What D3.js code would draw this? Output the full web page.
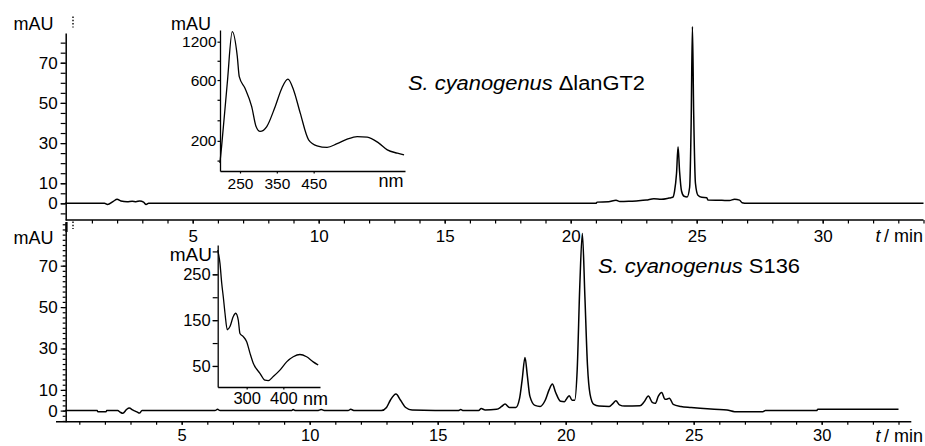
<!DOCTYPE html>
<html><head><meta charset="utf-8">
<script src="https://cdn.jsdelivr.net/npm/d3@7"></script>
<style>
body{margin:0;background:#fff;}
svg text{font-family:"Liberation Sans",Arial,Helvetica,sans-serif;fill:#000;}
</style></head>
<body><svg id="c" width="925" height="446"></svg>
<script>
// ---------- DATA ----------
// top chromatogram (S. cyanogenus ΔlanGT2): [t (min), mAU]
const topTrace = [[-0.07,0],[1.5,0],[1.62,-0.6],[1.85,1.0],[2.0,2.0],[2.15,1.2],[2.4,0.8],[2.6,1.0],[2.75,0.8],[2.9,1.2],[3.05,0.6],[3.15,-0.6],[3.25,0],
 [21.0,0],[21.05,0.6],[21.5,0.8],[21.8,1.5],[21.95,0.9],[22.3,1.0],[22.6,1.2],[23.0,1.6],[23.3,2.3],[23.6,2.0],[23.9,2.6],[24.05,3.0],[24.12,6],[24.2,15],[24.26,28.2],[24.32,16],[24.4,6],[24.5,3.5],[24.62,3.2],[24.72,8],[24.78,40],[24.83,88],[24.88,45],[24.95,10],[25.05,4],[25.2,3],[25.4,2.8],[25.45,1.6],[26.0,1.5],[26.3,1.4],[26.5,2.0],[26.7,1.6],[26.8,0.3],[27,0],[34,0]];
// bottom chromatogram (S. cyanogenus S136)
const bottomTrace = [[0.44,0],[1.7,0],[1.72,-0.5],[2.05,-0.5],[2.07,0],[2.5,0],[2.6,-0.8],[2.7,-1.3],[2.85,0.6],[2.95,1.2],[3.1,0.2],[3.25,-0.6],[3.35,-1.2],[3.45,0],
 [6.3,0],[6.4,0.6],[6.5,0],[9.3,0],[9.35,0.5],[9.45,0],[10.3,0],[10.45,0.5],[10.6,0],[11.5,0],[11.6,0.6],[11.75,0],[12.8,0],[13.0,1.5],[13.15,5],[13.37,8],[13.55,5],[13.75,1.5],[14.0,0.3],[15.8,0],[15.9,0.5],[16.0,0],[16.6,0],[16.7,1],[16.85,0.3],[17.3,0.6],[17.5,2],[17.63,3.2],[17.8,1.5],[18.05,1.5],[18.2,6],[18.3,15],[18.41,25.7],[18.5,17],[18.6,7],[18.8,2.5],[19.0,2],[19.2,5],[19.35,10],[19.48,12.8],[19.6,9],[19.8,4.5],[19.95,4.3],[20.05,6],[20.14,7.2],[20.25,5],[20.35,5],[20.45,20],[20.55,60],[20.65,85.6],[20.75,55],[20.85,22],[20.95,8],[21.1,3],[21.3,2.2],[21.7,2],[21.85,3.5],[21.96,4.8],[22.1,2.8],[22.3,2.2],[22.9,2.3],[23.05,4],[23.23,7.0],[23.38,4.0],[23.5,3.5],[23.62,7],[23.75,8.7],[23.88,5.5],[23.95,5.5],[24.05,6],[24.2,3],[24.5,2.0],[24.9,1.5],[25.25,1.1],[25.8,0.6],[26.3,0.3],[26.6,-0.5],[27.7,-0.5],[27.8,0],[29.8,0],[29.85,0.6],[33.0,0.6]];
// UV-vis spectrum insets: [nm, mAU]
const topSpectrum = [[195.5,134],[200,180],[215.4,566],[229,1437],[242.7,915],[248,638],[263.6,518],[281.8,371],[293.6,259],[304.5,237],[322.7,259],[345.4,371],[363.6,518],[380,609],[395.4,502],[413.6,330],[436.3,204],[459,183],[486.4,178],[513.7,190],[541,206],[568,216],[595.4,214],[627,192],[650,170],[677.3,160],[695.4,155]];
const bottomSpectrum = [[221,303],[227.2,274],[231.9,231],[236.2,201],[240.9,165],[247.1,129],[254.5,136],[263.5,158],[270,165],[277.1,150],[281.7,121],[290.7,114],[300,103],[309,78],[318,56],[336.2,34],[349.9,19],[358.9,18],[372.5,27],[390.7,41],[409,59],[427,70],[445.2,75],[463.5,70],[481.5,59],[495.1,52]];
// tick labels
const yTickLabels = [0,10,30,50,70];
const xTickLabels = [5,10,15,20,25,30];
const topInsetYLabels = [200,600,1200];
const topInsetYMinor = [140,290,420,850];
const topInsetXLabels = [250,350,450];
const bottomInsetYLabels = [50,150,250];
const bottomInsetXLabels = [300,400];
const labelTop = {italic:"S. cyanogenus", plain:" \u0394lanGT2"};
const labelBottom = {italic:"S. cyanogenus", plain:" S136"};

// ---------- SCALES ----------
const svg = d3.select("#c");
const topX = d3.scaleLinear().domain([0,34]).range([66.7,923.5]);
const topY = d3.scaleLinear().domain([-8.3,84.8]).range([220,33]);
const botX = d3.scaleLinear().domain([0,33.5]).range([53.7,911.3]);
const botY = d3.scaleLinear().domain([-5.36,91.1]).range([421.7,222]);
const tiX = d3.scaleLinear().domain([195.7,698]).range([220,405]);
const tiY = d3.scaleLog().domain([116,1482]).range([171,30]);
const biX = d3.scaleLinear().domain([221,500]).range([217.7,320]);
const biY = d3.scaleLinear().domain([4.1,314]).range([387,245]);

const FONT = 17;
function styleAxis(g, fs){
  g.selectAll(".domain").attr("stroke","#000").attr("stroke-width",1.5);
  g.selectAll(".tick line").attr("stroke","#000").attr("stroke-width",1.2);
  g.selectAll(".tick text").attr("font-size",fs).attr("font-family",'"Liberation Sans",Arial,sans-serif').attr("fill","#000");
}
function range(a,b,s){const r=[];for(let v=a;v<=b+1e-9;v+=s)r.push(+v.toFixed(3));return r;}

// ---------- TOP PANEL ----------
const yAxisX = 65.7;
let g = svg.append("g").attr("transform",`translate(${yAxisX},0)`)
  .call(d3.axisLeft(topY).tickValues(range(-5,80,5)).tickSize(5).tickSizeOuter(0).tickFormat(""));
styleAxis(g,FONT);
g = svg.append("g").attr("transform",`translate(${yAxisX},0)`)
  .call(d3.axisLeft(topY).tickValues(yTickLabels).tickSize(5).tickSizeOuter(0).tickPadding(3));
styleAxis(g,FONT); g.select(".domain").remove();
svg.append("line").attr("x1",yAxisX).attr("x2",topX.range()[1]).attr("y1",topY.range()[0]).attr("y2",topY.range()[0]).attr("stroke","#000").attr("stroke-width",1.5);
g = svg.append("g").attr("transform",`translate(0,${topY.range()[0]})`)
  .call(d3.axisBottom(topX).tickValues(range(1,34,1)).tickSize(3.5).tickSizeOuter(0).tickFormat(""));
styleAxis(g,FONT); g.select(".domain").remove();
g = svg.append("g").attr("transform",`translate(0,${topY.range()[0]})`)
  .call(d3.axisBottom(topX).tickValues(xTickLabels).tickSize(3.5).tickSizeOuter(0).tickPadding(6));
styleAxis(g,FONT); g.select(".domain").remove();

const line = (sx,sy)=>d3.line().x(d=>sx(d[0])).y(d=>sy(d[1])).curve(d3.curveMonotoneX);
svg.append("path").datum(topTrace).attr("d",line(topX,topY)).attr("fill","none").attr("stroke","#000").attr("stroke-width",1.5).attr("stroke-linejoin","round");

// ---------- BOTTOM PANEL ----------
g = svg.append("g").attr("transform",`translate(${yAxisX},0)`)
  .call(d3.axisLeft(botY).tickValues(range(-5,90,2.5)).tickSize(3).tickSizeOuter(0).tickFormat(""));
styleAxis(g,FONT);
g = svg.append("g").attr("transform",`translate(${yAxisX},0)`)
  .call(d3.axisLeft(botY).tickValues(yTickLabels).tickSize(5).tickSizeOuter(0).tickPadding(3));
styleAxis(g,FONT); g.select(".domain").remove();
svg.append("line").attr("x1",56).attr("x2",botX.range()[1]).attr("y1",botY.range()[0]).attr("y2",botY.range()[0]).attr("stroke","#000").attr("stroke-width",1.5);
g = svg.append("g").attr("transform",`translate(0,${botY.range()[0]})`)
  .call(d3.axisBottom(botX).tickValues(range(1,33,1)).tickSize(3).tickSizeOuter(0).tickFormat(""));
styleAxis(g,FONT); g.select(".domain").remove();
g = svg.append("g").attr("transform",`translate(0,${botY.range()[0]})`)
  .call(d3.axisBottom(botX).tickValues(xTickLabels).tickSize(3).tickSizeOuter(0).tickPadding(5));
styleAxis(g,16.5); g.select(".domain").remove();
svg.append("path").datum(bottomTrace).attr("d",line(botX,botY)).attr("fill","none").attr("stroke","#000").attr("stroke-width",1.5).attr("stroke-linejoin","round");

// off-scale markers near axis tops (dotted)
[[16.5,27.5],[221.5,229]].forEach(([a,b])=>{
  svg.append("line").attr("x1",73).attr("x2",73).attr("y1",a).attr("y2",b).attr("stroke","#000").attr("stroke-width",1.4).attr("stroke-dasharray","1.5,1.8");
});
svg.append("line").attr("x1",66.5).attr("x2",66.5).attr("y1",222).attr("y2",232).attr("stroke","#000").attr("stroke-width",2.2);

const txt=(x,y,s,fs,anchor)=>svg.append("text").attr("x",x).attr("y",y).attr("font-size",fs).attr("text-anchor",anchor||"start").text(s);
txt(53.5,30,"mAU",18,"end");
txt(53.5,243.5,"mAU",18,"end");
function tmin(y){
  const t = svg.append("text").attr("x",923).attr("y",y).attr("font-size",18).attr("text-anchor","end");
  t.append("tspan").attr("font-style","italic").text("t");
  t.append("tspan").text("\u2009/ min");
}
tmin(241.7); tmin(441.5);

function species(x,y,lab,len){
  const t = svg.append("text").attr("x",x).attr("y",y).attr("font-size",19.5)
    .attr("textLength",len).attr("lengthAdjust","spacingAndGlyphs");
  t.append("tspan").attr("font-style","italic").text(lab.italic);
  t.append("tspan").text(lab.plain);
}
species(408,90,labelTop,237);
species(598,273,labelBottom,202);

// ---------- TOP INSET ----------
svg.append("rect").attr("x",tiX.range()[0]+1).attr("y",tiY.range()[1]).attr("width",tiX.range()[1]-tiX.range()[0]).attr("height",tiY.range()[0]-tiY.range()[1]-1).attr("fill","#fff");
g = svg.append("g").attr("transform",`translate(${tiX.range()[0]},0)`)
  .call(d3.axisLeft(tiY).tickValues(topInsetYMinor).tickSize(2.5).tickSizeOuter(0).tickFormat(""));
styleAxis(g,14); g.selectAll(".domain").attr("stroke-width",1.3);
g = svg.append("g").attr("transform",`translate(${tiX.range()[0]},0)`)
  .call(d3.axisLeft(tiY).tickValues(topInsetYLabels).tickSize(2.5).tickSizeOuter(0).tickPadding(1).tickFormat(d3.format("d")));
styleAxis(g,15.5); g.select(".domain").remove();
g = svg.append("g").attr("transform",`translate(0,${tiY.range()[0]})`)
  .call(d3.axisBottom(tiX).tickValues(topInsetXLabels).tickSize(2.5).tickSizeOuter(0).tickPadding(4));
styleAxis(g,15.5); g.selectAll(".domain").attr("stroke-width",1.3);
svg.append("path").datum(topSpectrum).attr("d",line(tiX,tiY)).attr("fill","none").attr("stroke","#000").attr("stroke-width",1.3);
txt(211,30,"mAU",18,"end");
txt(378.5,187.3,"nm",18);

// ---------- BOTTOM INSET ----------
svg.append("rect").attr("x",biX.range()[0]+1).attr("y",biY.range()[1]).attr("width",biX.range()[1]-biX.range()[0]).attr("height",biY.range()[0]-biY.range()[1]-1).attr("fill","#fff");
g = svg.append("g").attr("transform",`translate(${biX.range()[0]},0)`)
  .call(d3.axisLeft(biY).tickValues([50,100,150,200,250,300]).tickSize(5).tickSizeOuter(0).tickFormat(""));
styleAxis(g,16); g.selectAll(".domain").attr("stroke-width",1.3);
g = svg.append("g").attr("transform",`translate(${biX.range()[0]},0)`)
  .call(d3.axisLeft(biY).tickValues(bottomInsetYLabels).tickSize(5).tickSizeOuter(0).tickPadding(2));
styleAxis(g,16.5); g.select(".domain").remove();
g = svg.append("g").attr("transform",`translate(0,${biY.range()[0]})`)
  .call(d3.axisBottom(biX).tickValues(bottomInsetXLabels).tickSize(2.5).tickSizeOuter(0).tickPadding(3));
styleAxis(g,16.5); g.selectAll(".domain").attr("stroke-width",1.3);
svg.append("path").datum(bottomSpectrum).attr("d",line(biX,biY)).attr("fill","none").attr("stroke","#000").attr("stroke-width",1.3);
txt(212,261,"mAU",19,"end");
txt(303,405,"nm",18);
</script></body></html>
